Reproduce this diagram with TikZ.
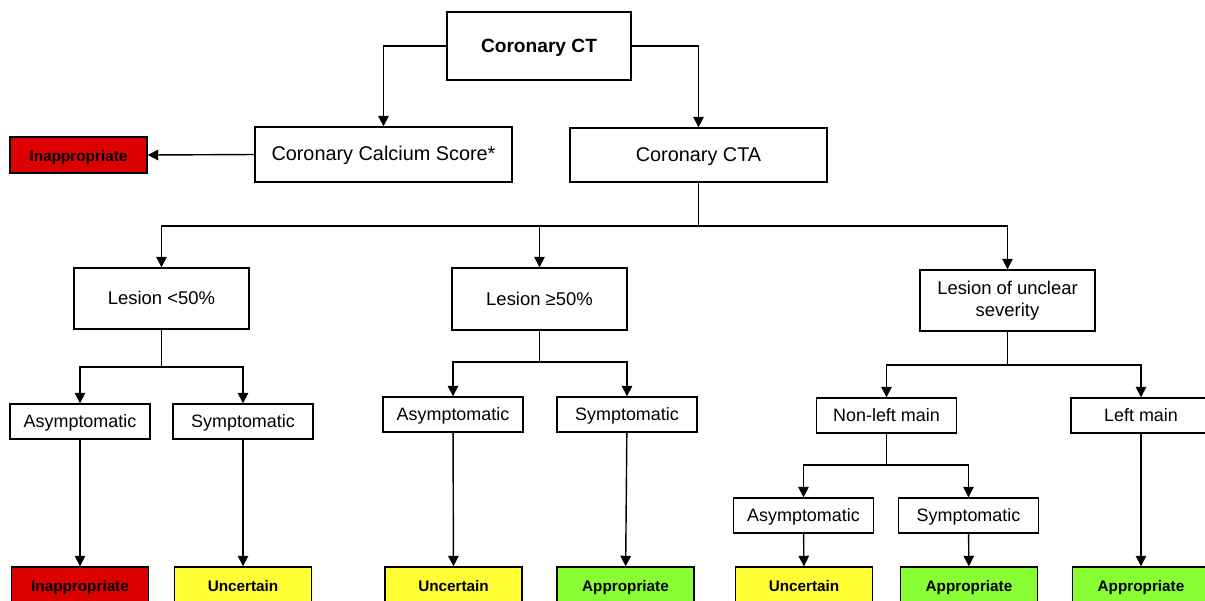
\documentclass[tikz,border=0pt]{standalone}
\usepackage{fontspec}
\setmainfont{Liberation Sans}
\usetikzlibrary{arrows.meta}
\tikzset{box/.style={draw=black, line width=0.8pt, fill=white, inner sep=0pt, align=center, text height=0.72em, text depth=0pt, font=\fontsize{11.3}{13.5}\selectfont},
mid/.style={box, minimum width=3.5cm, minimum height=1.22cm, font=\fontsize{10.5}{13}\selectfont},
small/.style={box, minimum width=2.8cm, minimum height=0.7cm, font=\fontsize{10.2}{12}\selectfont},
result/.style={small, minimum width=2.74cm, minimum height=0.72cm, font=\fontsize{8.7}{10}\selectfont\bfseries},
arr/.style={line width=0.8pt, -{Triangle[length=6pt,width=6pt]}},
ln/.style={line width=0.8pt}}
\definecolor{inapp}{RGB}{221,0,0}
\definecolor{uncert}{RGB}{255,255,51}
\definecolor{approp}{RGB}{136,255,51}

\begin{document}
\begin{tikzpicture}[x=0.02cm,y=-0.02cm]

\clip (0,0) rectangle (1205,600);
\fill[white] (0,0) rectangle (1205,600);

% top levels
\node[box, minimum width=3.68cm, minimum height=1.36cm, font=\fontsize{10.9}{13}\selectfont\bfseries] (ct) at (539,46) {Coronary CT};
\node[box, minimum width=5.14cm, minimum height=1.1cm] (ccs) at (383.5,154.5) {Coronary Calcium Score*};
\node[box, minimum width=5.14cm, minimum height=1.08cm] (cta) at (698.5,155) {Coronary CTA};
\node[result, fill=inapp] (res0) at (78.5,155) {Inappropriate};

% lesions
\node[mid] (les1) at (161.5,298.5) {Lesion <50\%};
\node[mid, minimum height=1.24cm] (les2) at (539.5,299) {Lesion ≥50\%};
\node[mid, text height={}, text depth={}, font=\fontsize{10.5}{12.6}\selectfont] (les3) at (1007.5,300.5) {Lesion of unclear\\severity};

\node[small] (asy1) at (80,421.5) {Asymptomatic};
\node[small] (sym1) at (243,421.5) {Symptomatic};
\node[small] (asy2) at (453,414.5) {Asymptomatic};
\node[small] (sym2) at (627,414.5) {Symptomatic};
\node[small] (nlm) at (886.5,415.5) {Non-left main};
\node[small] (lm) at (1141,415.5) {Left main};
\node[small] (asy3) at (803.5,515.5) {Asymptomatic};
\node[small] (sym3) at (968.5,515.5) {Symptomatic};

% results
\node[result, fill=inapp] (res1) at (80,585) {Inappropriate};
\node[result, fill=uncert] (res2) at (243,585) {Uncertain};
\node[result, fill=uncert] (res3) at (453.5,585) {Uncertain};
\node[result, fill=approp] (res4) at (625.5,585) {Appropriate};
\node[result, fill=uncert] (res5) at (804,585) {Uncertain};
\node[result, fill=approp] (res6) at (969,585) {Appropriate};
\node[result, fill=approp] (res7) at (1141,585) {Appropriate};

\coordinate (j1) at (698.5,226);
\coordinate (j2) at (161.5,367);
\coordinate (j3) at (539.5,362);
\coordinate (j4) at (1007.5,365);
\coordinate (j5) at (886.5,465);

\draw[arr] (ct.west) -| (ccs.north);
\draw[arr] (ct.east) -| (cta.north);
\draw[arr] (ccs.west) -- (res0.east);

\draw[ln] (cta.south) -- (j1);
\foreach \n in {les1,les2,les3}
    \draw[arr] (j1) -| (\n.north);

\draw[ln] (les1.south) -- (j2);
\draw[arr] (j2) -| (asy1.north);
\draw[arr] (j2) -| (sym1.north);
\draw[ln] (les2.south) -- (j3);
\draw[arr] (j3) -| (asy2.north);
\draw[arr] (j3) -| (sym2.north);
\draw[ln] (les3.south) -- (j4);
\draw[arr] (j4) -| (nlm.north);
\draw[arr] (j4) -| (lm.north);
\draw[ln] (nlm.south) -- (j5);
\draw[arr] (j5) -| (asy3.north);
\draw[arr] (j5) -| (sym3.north);

\draw[arr] (asy1) -- (res1);
\draw[arr] (sym1) -- (res2);
\draw[arr] (asy2) -- (res3);
\draw[arr] (sym2) -- (res4);
\draw[arr] (asy3) -- (res5);
\draw[arr] (sym3) -- (res6);
\draw[arr] (lm) -- (res7);

\end{tikzpicture}
\end{document}
